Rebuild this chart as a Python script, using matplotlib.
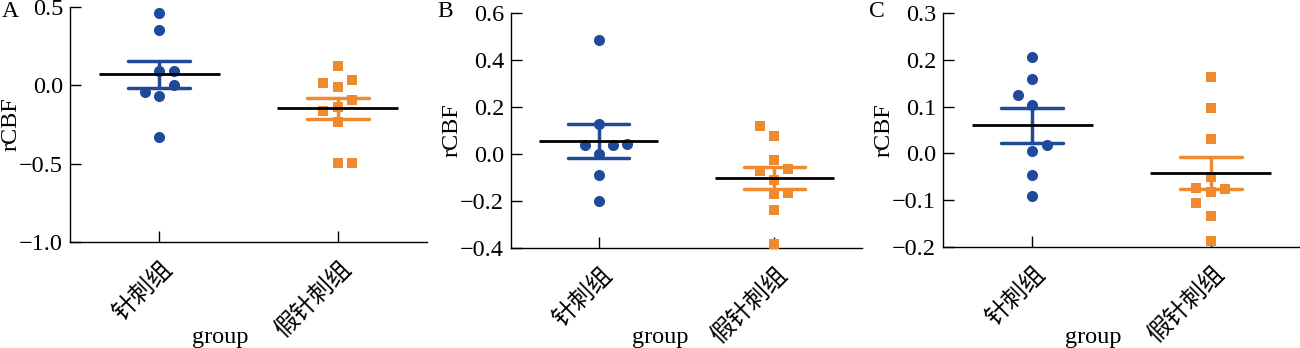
import numpy as np
import matplotlib
matplotlib.use('Agg')
import matplotlib.pyplot as plt

plt.rcParams['font.family'] = ['Liberation Serif', 'Noto Sans CJK SC']
plt.rcParams['axes.unicode_minus'] = True

# categories
groups = ['针刺组', '假针刺组']
panel_names = ['A', 'B', 'C']

# rCBF values
acu_a = [0.46, 0.355, 0.09, 0.09, 0.0, -0.04, -0.07, -0.33]
sham_a = [0.123, 0.015, 0.034, -0.009, -0.092, -0.162, -0.14, -0.236, -0.498, -0.495]
acu_b = [0.487, 0.127, 0.04, 0.038, 0.042, 0.0, -0.09, -0.2]
sham_b = [0.121, 0.075, -0.027, -0.072, -0.064, -0.112, -0.169, -0.165, -0.237, -0.382]
acu_c = [0.205, 0.158, 0.124, 0.103, 0.019, 0.005, -0.046, -0.09]
sham_c = [0.164, 0.098, 0.031, -0.051, -0.073, -0.083, -0.077, -0.105, -0.133, -0.188]

# y axis ranges / ticks
ylims = [(-1.0, 0.5), (-0.4, 0.6), (-0.2, 0.3)]
yticks = [[-1.0, -0.5, 0.0, 0.5],
          [-0.4, -0.2, 0.0, 0.2, 0.4, 0.6],
          [-0.2, -0.1, 0.0, 0.1, 0.2, 0.3]]

# swarm slots (-1 left, 0 centre, 1 right, ...) for each point
slots_acu = [[0, 0, 0, 1, 1, -1, 0, 0],
             [0, 0, -1, 1, 2, 0, 0, 0],
             [0, 0, -1, 0, 1, 0, 0, 0]]
slots_sham = [[0, -1, 1, 0, 1, -1, 0, 0, 0, 1],
              [-1, 0, 0, -1, 1, 0, 0, 1, 0, 0],
              [0, 0, 0, 0, -1, 0, 1, -1, 0, 0]]

BLUE = '#1f4a9a'
ORANGE = '#f08a2e'

W, H = 1300, 348
# axes boxes in pixels: left, right, top, bottom
boxes = [(70, 427, 7, 242), (511, 862, 13, 248), (943, 1300, 13, 247)]
group_label_px = [(220, 337), (660, 338), (1093, 338)]
letter_px = [(2, 1), (437, 1), (869, 1)]

fig = plt.figure(figsize=(W / 100, H / 100), dpi=100)

data = [(acu_a, sham_a), (acu_b, sham_b), (acu_c, sham_c)]

for p in range(3):
    l, r, t, b = boxes[p]
    ax = fig.add_axes([l / W, 1 - b / H, (r - l) / W, (b - t) / H])
    for i, (vals, marker, color, slots) in enumerate([
            (data[p][0], 'o', BLUE, slots_acu[p]),
            (data[p][1], 's', ORANGE, slots_sham[p])]):
        vals = np.array(vals)
        xs = i + np.array(slots) * 0.08
        ax.scatter(xs, vals, marker=marker, s=64 if marker == 'o' else 52,
                   color=color, linewidths=0, zorder=3, clip_on=False)
        m = vals.mean()
        sem = vals.std(ddof=1) / np.sqrt(len(vals))
        ax.hlines([m - sem, m + sem], i - 0.175, i + 0.175, color=color,
                  lw=2.5, zorder=4, capstyle='round')
        ax.vlines(i, m - sem, m + sem, color=color, lw=2.5, zorder=4)
        ax.hlines(m, i - 0.34, i + 0.34, color='black', lw=2, zorder=5)

    ax.set_xlim(-0.5, 1.5)
    ax.set_ylim(*ylims[p])
    ax.set_yticks(yticks[p])
    ax.set_yticklabels([f'{v:.1f}'.replace('-', '\u2212') for v in yticks[p]])
    ax.set_xticks([0, 1])
    ax.set_xticklabels(groups, rotation=45, ha='right', va='top',
                       rotation_mode='anchor', fontsize=17.5,
                       family=['Noto Sans CJK SC'])
    ax.tick_params(direction='in', length=8, width=1, labelsize=17.5, pad=5)
    ax.tick_params(axis='x', pad=10)
    for s in ['top', 'right']:
        ax.spines[s].set_visible(False)
    for s in ['left', 'bottom']:
        ax.spines[s].set_linewidth(1)

    ax.set_ylabel('rCBF', fontsize=17.5)
    ax.yaxis.set_label_coords(-59 / (r - l), 0.5)
    ax.yaxis.label.set_verticalalignment('center')

    gx, gy = group_label_px[p]
    ax.set_xlabel('group', fontsize=17.5)
    ax.xaxis.set_label_coords((gx - l) / (r - l), -(gy - b) / (b - t))
    ax.xaxis.label.set_verticalalignment('center')

    lx, ly = letter_px[p]
    fig.text(lx / W, 1 - ly / H, panel_names[p], fontsize=17,
             ha='left', va='top')

fig.savefig('out.png', dpi=100)
